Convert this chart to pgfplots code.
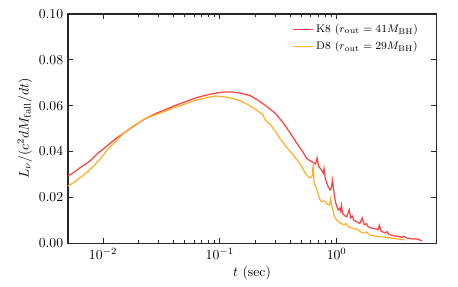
\documentclass[border=0pt]{standalone}
\usepackage{pgfplots}
\pgfplotsset{compat=1.18}
\definecolor{kred}{RGB}{255,64,64}
\definecolor{dorange}{RGB}{255,176,40}
\definecolor{axgray}{RGB}{40,40,40}
\begin{document}
\begin{tikzpicture}
\begin{axis}[
  name=ax,
  scale only axis,
  width=268.6pt, height=167.2pt,
  xmode=log,
  xmin=0.005, xmax=7.1,
  ymin=0, ymax=0.1,
  ytick={0,0.02,0.04,0.06,0.08,0.1},
  yticklabel style={/pgf/number format/fixed,/pgf/number format/fixed zerofill,/pgf/number format/precision=2},
  scaled y ticks=false,
  xtick={0.01,0.1,1},
  tick align=inside,
  xtick pos=both, ytick pos=both,
  axis line style={axgray, line width=0.8pt},
  every tick/.style={axgray, line width=0.6pt},
  major tick length=3.5pt, minor tick length=2pt,
  xlabel={$t$ (sec)},
  ylabel={$L_\nu/(c^2dM_{\rm fall}/dt)$},
  xlabel style={yshift=2pt},
  ylabel style={yshift=-2pt},
  legend style={at={(0.97,0.98)}, anchor=north east, draw=none, fill=none, font=\footnotesize, row sep=1pt},
  legend cell align=left,
  legend image code/.code={\draw[#1, line width=0.9pt] (0cm,0cm) -- (0.5cm,0cm);},
]
\addplot[kred, line width=0.9pt] coordinates {
(0.005,0.0294)(0.0055,0.0305)(0.006,0.0320)(0.0065,0.0333)(0.007,0.0343)
(0.0079,0.0363)(0.009,0.0392)(0.010,0.0410)(0.011,0.0428)(0.013,0.0458)
(0.0152,0.0482)(0.018,0.0508)(0.0226,0.0541)(0.028,0.0565)(0.0336,0.0581)
(0.04,0.0598)(0.05,0.0616)(0.0608,0.0632)(0.07,0.0641)(0.0817,0.0649)
(0.095,0.0656)(0.1137,0.0660)(0.13,0.0659)(0.148,0.0655)(0.18,0.0645)
(0.21,0.0625)(0.24,0.0604)(0.267,0.0586)(0.30,0.0565)(0.348,0.0525)
(0.40,0.0480)(0.454,0.0437)(0.51,0.0400)(0.552,0.0370)(0.59,0.0360)
(0.63,0.0352)(0.66,0.0345)(0.68,0.0372)(0.70,0.0335)(0.74,0.0320)
(0.768,0.0305)(0.78,0.0325)(0.80,0.0280)(0.84,0.0250)(0.876,0.0232)
(0.90,0.0240)(0.92,0.0275)(0.95,0.0220)(0.98,0.0175)(1.03,0.0145)
(1.06,0.0152)(1.08,0.0140)(1.1,0.0165)(1.12,0.0130)(1.17,0.0120)(1.22,0.0115)
(1.28,0.0145)(1.32,0.0110)(1.36,0.0118)(1.40,0.0100)(1.50,0.0092)(1.58,0.0086)
(1.65,0.0110)(1.72,0.0080)(1.8,0.0085)(1.85,0.0072)(2.0,0.0065)(2.15,0.0062)
(2.27,0.0060)(2.32,0.0078)(2.4,0.0052)(2.6,0.0045)(2.7,0.0050)(2.8,0.0038)
(3.06,0.0032)(3.3,0.0030)(3.6,0.0026)(3.8,0.0029)(4.0,0.0022)(4.5,0.0018)
(4.8,0.0019)(5.19,0.0013)(5.4,0.0010)
};
\addlegendentry{K8 ($r_{\rm out}=41M_{\rm BH}$)}
\addplot[dorange, line width=0.9pt] coordinates {
(0.005,0.0249)(0.0055,0.0262)(0.006,0.0276)(0.007,0.0302)(0.0079,0.0326)
(0.009,0.0355)(0.011,0.0410)(0.013,0.0448)(0.0152,0.0482)(0.018,0.0510)
(0.0226,0.0542)(0.028,0.0560)(0.0336,0.0574)(0.04,0.0590)(0.05,0.0606)
(0.0608,0.0622)(0.075,0.0634)(0.0933,0.0642)(0.1137,0.0637)(0.13,0.0631)
(0.148,0.0622)(0.175,0.0603)(0.206,0.0581)(0.234,0.0560)(0.245,0.0535)
(0.268,0.0520)(0.30,0.0485)(0.326,0.0457)(0.37,0.0420)(0.424,0.0385)
(0.484,0.0348)(0.52,0.0320)(0.552,0.0297)(0.59,0.0285)(0.615,0.0290)
(0.63,0.0345)(0.64,0.0265)(0.68,0.0230)(0.72,0.0190)(0.744,0.0180)
(0.78,0.0185)(0.83,0.0170)(0.87,0.0165)(0.89,0.0195)(0.906,0.0166)
(0.95,0.0120)(1.0,0.0100)(1.07,0.0088)(1.15,0.0080)(1.2,0.0085)(1.25,0.0072)
(1.39,0.0064)(1.5,0.0060)(1.65,0.0045)(1.8,0.0048)(1.93,0.0035)(2.2,0.0030)
(2.69,0.0025)(3.0,0.0021)(3.5,0.0017)(3.8,0.0015)
};
\addlegendentry{D8 ($r_{\rm out}=29M_{\rm BH}$)}
\end{axis}
\path ([shift={(-49.6pt,-31.4pt)}]ax.south west) rectangle ([shift={(16pt,10.2pt)}]ax.north east);
\end{tikzpicture}
\end{document}
